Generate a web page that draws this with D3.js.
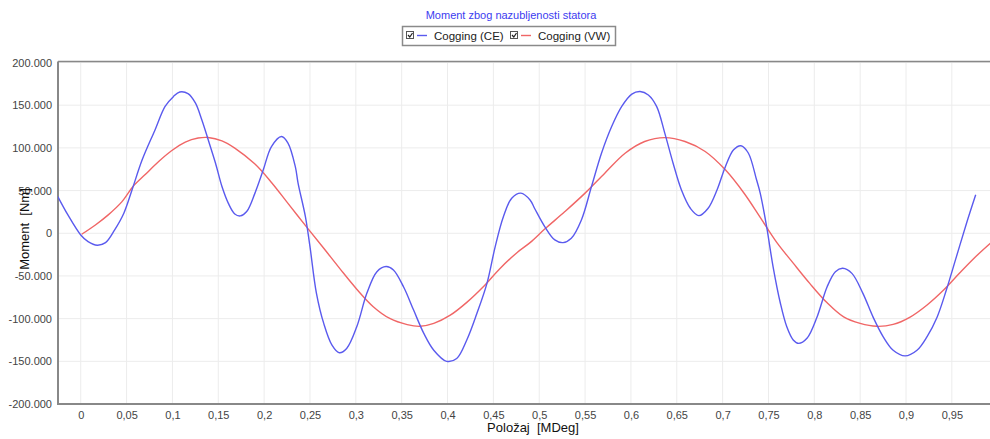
<!DOCTYPE html>
<html>
<head>
<meta charset="utf-8">
<script src="https://cdn.jsdelivr.net/npm/d3@7"></script>
<style>
  html, body { margin: 0; padding: 0; background: #fff; }
  svg { display: block; font-family: "Liberation Sans", Arial, sans-serif; }
</style>
</head>
<body>
<svg id="chart" width="990" height="439"></svg>
<script>
const title = "Moment zbog nazubljenosti statora";
const seriesNames = ["Cogging (CE)", "Cogging (VW)"];
const xLabel = "Položaj  [MDeg]";
const yLabel = "Moment  [Nm]";
const xTicks = [0, 0.05, 0.1, 0.15, 0.2, 0.25, 0.3, 0.35, 0.4, 0.45, 0.5, 0.55, 0.6, 0.65, 0.7, 0.75, 0.8, 0.85, 0.9, 0.95];
const yTicks = [-200000, -150000, -100000, -50000, 0, 50000, 100000, 150000, 200000];

const ceX = [-0.025, -0.014, 0, 0.008, 0.018, 0.027, 0.037, 0.047, 0.056, 0.067, 0.081, 0.092, 0.101, 0.108, 0.117, 0.125, 0.132, 0.139, 0.147, 0.154, 0.161, 0.168, 0.174, 0.181, 0.19, 0.199, 0.208, 0.219, 0.226, 0.234, 0.237, 0.245, 0.25, 0.257, 0.265, 0.274, 0.282, 0.29, 0.301, 0.312, 0.323, 0.333, 0.341, 0.352, 0.363, 0.374, 0.385, 0.399, 0.41, 0.421, 0.432, 0.443, 0.452, 0.461, 0.47, 0.48, 0.49, 0.495, 0.506, 0.517, 0.526, 0.535, 0.546, 0.557, 0.568, 0.579, 0.59, 0.601, 0.61, 0.619, 0.628, 0.637, 0.646, 0.655, 0.665, 0.674, 0.684, 0.694, 0.703, 0.712, 0.72, 0.728, 0.737, 0.741, 0.748, 0.755, 0.763, 0.77, 0.777, 0.783, 0.792, 0.803, 0.814, 0.823, 0.831, 0.841, 0.853, 0.864, 0.875, 0.886, 0.899, 0.912, 0.923, 0.934, 0.944, 0.955, 0.966, 0.976];
const ceY = [43000, 21500, -2000, -9800, -14000, -11000, 4000, 23500, 51000, 86000, 121000, 148600, 160000, 165500, 163500, 152600, 133000, 109500, 82000, 54700, 35000, 22600, 20300, 25400, 47000, 74000, 101600, 113400, 105600, 78000, 58700, 19500, -15700, -70000, -105600, -131000, -140000, -135000, -109600, -70400, -45000, -39000, -43000, -62700, -90000, -117000, -137000, -150000, -146700, -125000, -94000, -58700, -15700, 19500, 41000, 47000, 39000, 29000, 7800, -7800, -11000, -5900, 15600, 54700, 94000, 125000, 148600, 163000, 166000, 162000, 148600, 117000, 82000, 51000, 29000, 20700, 29000, 51000, 78000, 97800, 102500, 94000, 62600, 47000, 7800, -39000, -82000, -109600, -125000, -129000, -123000, -98000, -62700, -45000, -41000, -47000, -70400, -98000, -121000, -137000, -143600, -137000, -121000, -98000, -66500, -27400, 11700, 45000];

const vwX = [0.001, 0.016, 0.03, 0.045, 0.057, 0.07, 0.085, 0.099, 0.114, 0.128, 0.139, 0.154, 0.168, 0.19, 0.208, 0.226, 0.246, 0.265, 0.283, 0.301, 0.319, 0.337, 0.356, 0.37, 0.385, 0.403, 0.421, 0.439, 0.457, 0.476, 0.49, 0.506, 0.528, 0.55, 0.572, 0.594, 0.615, 0.637, 0.659, 0.681, 0.703, 0.724, 0.741, 0.759, 0.777, 0.795, 0.814, 0.832, 0.85, 0.868, 0.886, 0.904, 0.923, 0.941, 0.959, 0.977, 0.992];
const vwY = [-1200, 9700, 21500, 37000, 54700, 68400, 84000, 96600, 106800, 111500, 112200, 108300, 99800, 81000, 59500, 35000, 7800, -17600, -42000, -65500, -86000, -99800, -107000, -109000, -105600, -96000, -81000, -62700, -41500, -22500, -11000, 4900, 25400, 47000, 71000, 94000, 107500, 112000, 107500, 95800, 74300, 46000, 18600, -10700, -35000, -58700, -81500, -98000, -105600, -109000, -106800, -98500, -84000, -66500, -46000, -26400, -11700];

const colors = ["#5a5aee", "#f06666"];

const svg = d3.select("#chart");
const pLeft = 58, pRight = 990, pTop = 62.5, pBottom = 404;

const loc = d3.formatLocale({decimal: ",", thousands: ".", grouping: [3], currency: ["", ""], minus: "-"});
const fx = loc.format("~g");
const fy = loc.format(",");

const x = d3.scaleLinear().domain([-0.0248, 0.9916]).range([pLeft, pRight]);
const y = d3.scaleLinear().domain([-200000, 200000]).range([pBottom, pTop]);

// grid
const grid = svg.append("g");
grid.selectAll("line.v").data(xTicks).enter().append("line")
  .attr("x1", d => x(d)).attr("x2", d => x(d)).attr("y1", pTop).attr("y2", pBottom)
  .attr("stroke", "#ececec").attr("stroke-width", 1);
grid.selectAll("line.h").data(yTicks).enter().append("line")
  .attr("x1", pLeft).attr("x2", pRight).attr("y1", d => y(d)).attr("y2", d => y(d))
  .attr("stroke", "#ececec").attr("stroke-width", 1);

// axes
const xAxis = d3.axisBottom(x).tickValues(xTicks).tickFormat(fx).tickSize(0).tickPadding(7);
const gx = svg.append("g").attr("transform", `translate(0,${pBottom})`).call(xAxis);
gx.select(".domain").remove();
gx.selectAll("text").attr("font-size", 11).attr("fill", "#444").attr("font-family", "'Liberation Sans', Arial, sans-serif");

const yAxis = d3.axisLeft(y).tickValues(yTicks).tickFormat(fy).tickSize(0).tickPadding(6);
const gy = svg.append("g").attr("transform", `translate(${pLeft},0)`).call(yAxis);
gy.select(".domain").remove();
gy.selectAll("text").attr("font-size", 11).attr("fill", "#444").attr("font-family", "'Liberation Sans', Arial, sans-serif");

// frame lines
svg.append("line").attr("x1", pLeft).attr("x2", pLeft).attr("y1", pTop - 1).attr("y2", pBottom + 1).attr("stroke", "#888").attr("stroke-width", 2);
svg.append("line").attr("x1", pLeft).attr("x2", pRight).attr("y1", pBottom).attr("y2", pBottom).attr("stroke", "#888").attr("stroke-width", 2);
svg.append("line").attr("x1", pLeft).attr("x2", pRight).attr("y1", pTop - 1).attr("y2", pTop - 1).attr("stroke", "#888").attr("stroke-width", 1.5);

// series
const line = d3.line().x(d => x(d[0])).y(d => y(d[1])).curve(d3.curveCatmullRom.alpha(0.5));
const series = [d3.zip(ceX, ceY), d3.zip(vwX, vwY)];
svg.append("clipPath").attr("id", "clip").append("rect")
  .attr("x", pLeft).attr("y", pTop).attr("width", pRight - pLeft).attr("height", pBottom - pTop);
svg.append("g").attr("clip-path", "url(#clip)").selectAll("path").data([series[1], series[0]]).enter().append("path")
  .attr("d", line).attr("fill", "none")
  .attr("stroke", (d, i) => i === 0 ? colors[1] : colors[0])
  .attr("stroke-width", 1.4);

// title
svg.append("text").attr("x", 511).attr("y", 19).attr("text-anchor", "middle")
  .attr("font-size", 11).attr("fill", "#3c3cf0").text(title);

// legend
const lg = svg.append("g");
lg.append("rect").attr("x", 402.5).attr("y", 26.5).attr("width", 213).attr("height", 19)
  .attr("fill", "#fff").attr("stroke", "#8a8a8a").attr("stroke-width", 1.5);
const legendX = [405, 509];
seriesNames.forEach((name, i) => {
  const g = lg.append("g").attr("transform", `translate(${legendX[i]},0)`);
  g.append("rect").attr("x", 1.5).attr("y", 31.5).attr("width", 7).attr("height", 7)
    .attr("fill", "#fff").attr("stroke", "#555").attr("stroke-width", 1);
  g.append("path").attr("d", "M3,35 L4.8,37 L7.5,33").attr("fill", "none").attr("stroke", "#222").attr("stroke-width", 1.2);
  g.append("line").attr("x1", 12).attr("x2", 22).attr("y1", 35.5).attr("y2", 35.5)
    .attr("stroke", colors[i]).attr("stroke-width", 1.4);
  g.append("text").attr("x", 29).attr("y", 40).attr("font-size", 11.5).attr("fill", "#222").text(name);
});

// axis labels
svg.append("text").attr("x", 533).attr("y", 432).attr("text-anchor", "middle")
  .attr("font-size", 13).attr("fill", "#111").style("white-space", "pre").text(xLabel);
svg.append("text").attr("transform", "translate(29,229) rotate(-90)").attr("text-anchor", "middle")
  .attr("font-size", 13).attr("fill", "#111").style("white-space", "pre").text(yLabel);
</script>
</body>
</html>
